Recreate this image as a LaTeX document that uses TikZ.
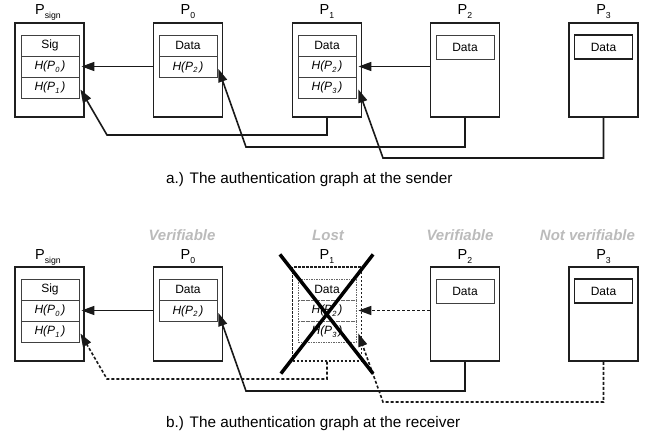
\documentclass[tikz,border=0pt]{standalone}
\usepackage{fontspec}
\setmainfont{Liberation Sans}
\usetikzlibrary{arrows.meta,calc}
\newcommand\mysub[1]{\raisebox{-2.5pt}{\fontsize{7.5}{7.5}\selectfont #1}}
\newcommand\lsub[1]{\raisebox{-4pt}{\fontsize{8.7}{8.7}\selectfont #1}}
\definecolor{statgray}{HTML}{BBBBBB}
\begin{document}
\begin{tikzpicture}[x=1pt,y=-1pt,
  outer/.style={draw=black!88, line width=1.8pt, minimum width=69pt, minimum height=94pt, inner sep=0pt},
  louter/.style={outer, line width=1.2pt, dash pattern=on 2.5pt off 1.5pt},
  row/.style={draw=black!75, line width=0.9pt, minimum width=58pt, minimum height=21pt, inner sep=0pt, font=\fontsize{12}{12}\selectfont},
  lrow/.style={row, draw=black!60, line width=0.8pt, dash pattern=on 1.5pt off 1pt},
  dbox/.style={row, minimum height=24pt},
  lbl/.style={anchor=base, inner sep=0pt, font=\fontsize{14.5}{14.5}\selectfont},
  stat/.style={anchor=base, inner sep=0pt, text=statgray, font=\fontsize{15}{15}\selectfont\bfseries\itshape},
  captext/.style={anchor=base west, inner sep=0pt, font=\fontsize{15.3}{15.3}\selectfont},
  arr/.style={line width=1.6pt, draw=black!90, -{Triangle[length=13pt,width=9pt]}},
  darr/.style={arr, dash pattern=on 3pt off 2pt},
  xline/.style={line width=3.5pt, line cap=butt}]
\useasboundingbox (0,0) rectangle (651,436);
%%%%%%%%%%%%%%%%%%%% a.) sender
\node[outer] (sA) at (49.5,70) {};
\node[row] (sAsig) at (50,45.5) {Sig};
\node[row] (sAh0) at (50,66.5) {\itshape H(P\mysub{0}\,)};
\node[row] (sAh1) at (50,87.5) {\itshape H(P\mysub{1}\,)};
\node[lbl] (sAl) at (48,15) {P\lsub{sign}};

\node[outer] (p0A) at (188,70) {};
\node[row] (p0Adata) at (188,45.5) {Data};
\node[row] (p0Ah2) at (188,67) {\itshape H(P\mysub{2}\,)};
\node[lbl] (p0Al) at (188,15) {P\lsub{0}};

\node[outer] (p1A) at (327,70) {};
\node[row] (p1Adata) at (327,45.5) {Data};
\node[row] (p1Ah2) at (327,66.5) {\itshape H(P\mysub{2}\,)};
\node[row] (p1Ah3) at (327,87.5) {\itshape H(P\mysub{3}\,)};
\node[lbl] (p1Al) at (327,15) {P\lsub{1}};

\node[outer] (p2A) at (465,70) {};
\node[dbox] (p2Adata) at (465,47) {Data};
\node[lbl] (p2Al) at (465,15) {P\lsub{2}};

\node[outer] (p3A) at (603.5,70) {};
\node[dbox, line width=1.6pt, draw=black!88] (p3Adata) at (603.5,47) {Data};
\node[lbl] (p3Al) at (603.5,15) {P\lsub{3}};

\coordinate (kA1) at (107,135);
\coordinate (kA2) at (246,147);
\coordinate (kA3) at (383,158);
\draw[arr] (p0A.west |- sAh0) -- ($(sAh0.east)+(2,0)$);
\draw[arr] (p1A.south) |- (kA1) -- ($(sAh1.east)+(1,2)$);
\draw[arr] (p2A.south) |- (kA2) -- ($(p0Ah2.east)+(1,2)$);
\draw[arr] (p2A.west |- p1Ah2) -- ($(p1Ah2.east)+(2,0)$);
\draw[arr] (p3A.south) |- (kA3) -- ($(p1Ah3.east)+(2,2)$);

\node[captext] (capA) at (166,183) {a.) The authentication graph at the sender};

%%%%%%%%%%%%%%%%%%%% b.) receiver
\node[outer] (sB) at (49.5,314) {};
\node[row] (sBsig) at (50,289.5) {Sig};
\node[row] (sBh0) at (50,310.5) {\itshape H(P\mysub{0}\,)};
\node[row] (sBh1) at (50,331.5) {\itshape H(P\mysub{1}\,)};
\node[lbl] (sBl) at (48,259) {P\lsub{sign}};

\node[outer] (p0B) at (188,314) {};
\node[row] (p0Bdata) at (188,289.5) {Data};
\node[row] (p0Bh2) at (188,311) {\itshape H(P\mysub{2}\,)};
\node[lbl] (p0Bl) at (188,259) {P\lsub{0}};
\node[stat] (p0Bs) at (182,240) {Verifiable};

\node[louter] (p1B) at (327,314) {};
\node[lrow] (p1Bdata) at (327,289.5) {Data};
\node[lrow] (p1Bh2) at (327,310.5) {\itshape H(P\mysub{2}\,)};
\node[lrow] (p1Bh3) at (327,331.5) {\itshape H(P\mysub{3}\,)};
\node[lbl] (p1Bl) at (327,259) {P\lsub{1}};
\node[stat] (p1Bs) at (328,240) {Lost};

\node[outer] (p2B) at (465,314) {};
\node[dbox] (p2Bdata) at (465,291) {Data};
\node[lbl] (p2Bl) at (465,259) {P\lsub{2}};
\node[stat] (p2Bs) at (460,240) {Verifiable};

\node[outer] (p3B) at (603.5,314) {};
\node[dbox, line width=1.6pt, draw=black!88] (p3Bdata) at (603.5,291) {Data};
\node[lbl] (p3Bl) at (603.5,259) {P\lsub{3}};
\node[stat] (p3Bs) at (587.5,240) {Not verifiable};

\coordinate (kB1) at (107,379);
\coordinate (kB2) at (246,391);
\coordinate (kB3) at (383,402);
\draw[arr] (p0B.west |- sBh0) -- ($(sBh0.east)+(2,0)$);
\draw[darr] (p1B.south) |- (kB1) -- ($(sBh1.east)+(1,2)$);
\draw[arr] (p2B.south) |- (kB2) -- ($(p0Bh2.east)+(1,2)$);
\draw[darr] (p2B.west |- p1Bh2) -- ($(p1Bh2.east)+(2,0)$);
\draw[darr] (p3B.south) |- (kB3) -- ($(p1Bh3.east)+(2,2)$);

\draw[xline] ($(p1B.north west)+(-12,-12)$) -- ($(p1B.south east)+(11,12)$);
\draw[xline] ($(p1B.north east)+(11,-12)$) -- ($(p1B.south west)+(-11,12)$);

\node[captext] (capB) at (166,427) {b.) The authentication graph at the receiver};
\end{tikzpicture}
\end{document}
